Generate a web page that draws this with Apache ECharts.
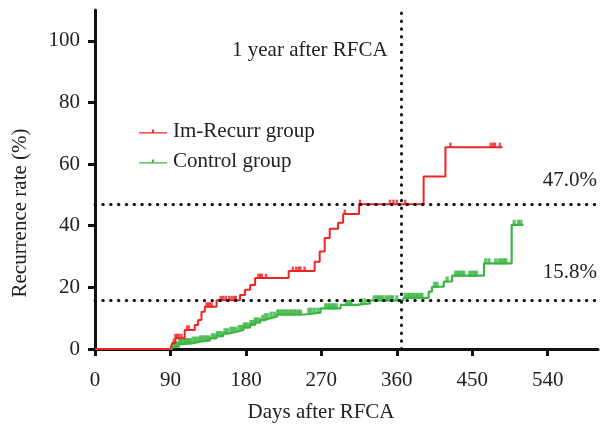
<!DOCTYPE html>
<html>
<head>
<meta charset="utf-8">
<script src="https://cdn.jsdelivr.net/npm/echarts@6/dist/echarts.min.js"></script>
<style>html,body{margin:0;padding:0;background:#fff}#c{width:608px;height:427px}</style>
</head>
<body>
<div id="c"></div>
<script>
// ---- data ----
var xTicks = [0, 90, 180, 270, 360, 450, 540];
var yTicks = [0, 20, 40, 60, 80, 100];

var redName = 'Im-Recurr group';
var redDays = [0, 90, 92, 96, 107, 119, 123, 127, 131, 145, 173, 179, 185, 191, 231, 262, 268, 274, 280, 290, 296, 315, 392, 418, 486];
var redVals = [0, 0, 1.9, 3.5, 6.2, 7.8, 9.4, 12.1, 13.7, 15.8, 17.5, 19.2, 20.8, 23.0, 25.3, 28.3, 31.6, 36.0, 39.0, 41.0, 43.8, 47.0, 56.0, 65.5, 65.5];
var redCensor = [94, 96, 98, 100, 103, 110, 112, 133, 135, 137, 139, 150, 153, 156, 160, 163, 166, 168, 195, 197, 199, 204, 236, 240, 243, 245, 250, 298, 316, 352, 356, 360, 370, 424, 472, 475, 477, 483];

var greenName = 'Control group';
var greenDays = [0, 92, 100, 105, 117, 125, 137, 145, 153, 161, 169, 177, 185, 191, 197, 203, 209, 217, 250, 269, 293, 312, 328, 368, 398, 402, 416, 426, 464, 497, 511];
var greenVals = [0, 0.8, 1.6, 1.9, 2.4, 2.8, 3.5, 4.2, 5.1, 5.6, 6.2, 7.0, 7.8, 8.6, 9.4, 10.0, 10.5, 11.2, 11.8, 13.2, 14.3, 14.8, 15.8, 16.6, 18.6, 20.2, 21.9, 23.8, 27.8, 40.3, 40.3];
var greenCensor = [94, 96, 99, 101, 103, 106, 108, 110, 112, 114, 117, 120, 123, 126, 128, 131, 133, 136, 140, 143, 146, 148, 151, 155, 158, 162, 165, 168, 172, 175, 178, 180, 183, 186, 188, 191, 193, 196, 200, 203, 206, 210, 214, 218, 220, 223, 225, 228, 230, 233, 235, 238, 240, 243, 245, 255, 258, 262, 266, 275, 278, 280, 283, 285, 288, 300, 303, 305, 318, 322, 333, 336, 338, 341, 343, 347, 350, 353, 355, 360, 370, 373, 375, 378, 380, 383, 385, 388, 390, 405, 408, 420, 430, 433, 435, 438, 440, 447, 450, 453, 455, 466, 470, 478, 482, 485, 488, 490, 500, 505, 508];

var oneYear = 365;
var redAtYear = 47.0;
var greenAtYear = 15.8;

// ---- build ----
function pairs(d, v) { return d.map(function (t, i) { return [t, v[i]]; }); }
function stepAt(d, v, t) { var r = v[0]; for (var i = 0; i < d.length; i++) { if (d[i] <= t) r = v[i]; } return r; }
function censorPts(c, d, v) { return c.map(function (t) { return [t, stepAt(d, v, t)]; }); }

var RED = '#ef2525', GREEN = '#3cb544';
var FONT = '"Liberation Serif", "DejaVu Serif", serif';
var FS = 21;
var dotStyle = { color: '#111', width: 3, type: [0.5, 7.3], cap: 'round' };

var chart = echarts.init(document.getElementById('c'));
chart.setOption({
  animation: false,
  backgroundColor: '#fff',
  grid: { left: 95, right: 10, top: 10, bottom: 78 },
  xAxis: {
    type: 'value', min: 0, max: 600,
    axisLine: { lineStyle: { color: '#111', width: 3 } },
    axisTick: { length: 7, lineStyle: { color: '#111', width: 3 }, customValues: xTicks },
    axisLabel: { customValues: xTicks, color: '#222', fontFamily: FONT, fontSize: FS, margin: 21 },
    splitLine: { show: false }
  },
  yAxis: {
    type: 'value', min: 0, max: 110,
    axisLine: { show: true, lineStyle: { color: '#111', width: 3 } },
    axisTick: { show: true, length: 7, lineStyle: { color: '#111', width: 3 }, customValues: yTicks },
    axisLabel: { customValues: yTicks, color: '#222', fontFamily: FONT, fontSize: FS, margin: 15 },
    splitLine: { show: false }
  },
  legend: {
    orient: 'vertical', left: 134, top: 116, itemGap: 9,
    itemWidth: 28, itemHeight: 6,
    icon: 'path://M0,3.5H30V5H0Z M14,0.5H16V3.5H14Z',
    textStyle: { fontFamily: FONT, fontSize: FS, color: '#222', padding: [0, 0, 0, 1] },
    data: [redName, greenName]
  },
  graphic: [
    { type: 'text', x: 232, y: 50, style: { text: '1 year after RFCA', font: FS + 'px ' + FONT, fill: '#222', verticalAlign: 'middle' } },
    { type: 'text', x: 597, y: 180, style: { text: redAtYear.toFixed(1) + '%', font: FS + 'px ' + FONT, fill: '#222', align: 'right', verticalAlign: 'middle' } },
    { type: 'text', x: 597, y: 272, style: { text: greenAtYear.toFixed(1) + '%', font: FS + 'px ' + FONT, fill: '#222', align: 'right', verticalAlign: 'middle' } },
    { type: 'text', x: 321, y: 412, style: { text: 'Days after RFCA', font: FS + 'px ' + FONT, fill: '#222', align: 'center', verticalAlign: 'middle' } },
    { type: 'text', x: 20, y: 213, rotation: Math.PI / 2, style: { text: 'Recurrence rate (%)', font: FS + 'px ' + FONT, fill: '#222', align: 'center', verticalAlign: 'middle' } }
  ],
  series: [
    {
      name: 'refs', type: 'line', data: [], silent: true,
      markLine: {
        silent: true, symbol: 'none', label: { show: false },
        lineStyle: dotStyle,
        data: [{ yAxis: redAtYear }, { yAxis: greenAtYear }, { xAxis: oneYear }]
      }
    },
    {
      name: greenName, type: 'line', step: 'end', showSymbol: false, color: GREEN,
      lineStyle: { color: GREEN, width: 2.2 }, data: pairs(greenDays, greenVals), z: 3
    },
    {
      name: redName, type: 'line', step: 'end', showSymbol: false, color: RED,
      lineStyle: { color: RED, width: 2 }, data: pairs(redDays, redVals), z: 4
    },
    {
      name: 'gc', type: 'scatter', symbol: 'rect', symbolSize: [3.2, 6], symbolOffset: [0, -2],
      itemStyle: { color: GREEN }, data: censorPts(greenCensor, greenDays, greenVals), z: 3, silent: true
    },
    {
      name: 'rc', type: 'scatter', symbol: 'rect', symbolSize: [2.5, 5], symbolOffset: [0, -2],
      itemStyle: { color: RED }, data: censorPts(redCensor, redDays, redVals), z: 4, silent: true
    }
  ]
});
</script>
</body>
</html>
